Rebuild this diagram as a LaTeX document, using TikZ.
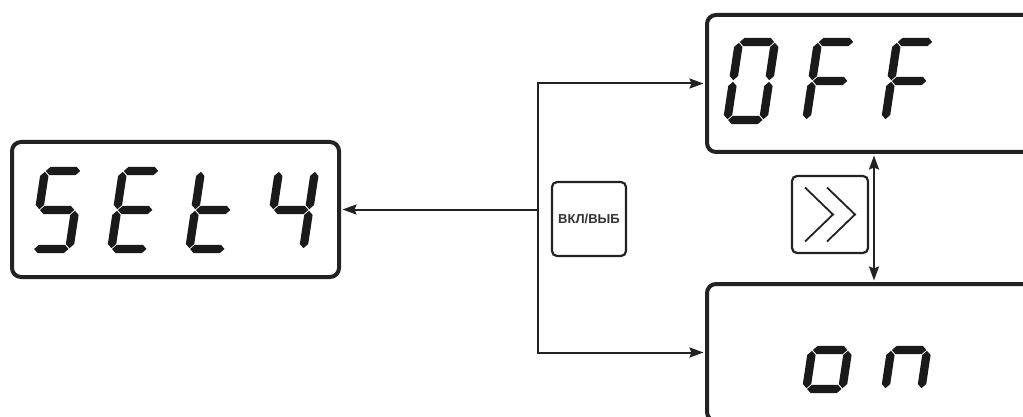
\documentclass[tikz,border=0pt]{standalone}
\usepackage{fontspec}
\newfontfamily\btnfont{Liberation Sans}
\usetikzlibrary{arrows.meta}
\definecolor{segc}{HTML}{1A1A1A}
\definecolor{linec}{HTML}{222222}
\definecolor{txtc}{HTML}{333333}
% seven-segment pieces, local units px, y downward, digit 36 x 78
\newcommand{\segA}{\fill[segc] (0.8,0) -- (5,-4.2) -- (31,-4.2) -- (35.2,0) -- (31,4.2) -- (5,4.2) -- cycle;}
\newcommand{\segG}{\fill[segc] (0.8,39) -- (5,34.8) -- (31,34.8) -- (35.2,39) -- (31,43.2) -- (5,43.2) -- cycle;}
\newcommand{\segD}{\fill[segc] (0.8,78) -- (5,73.8) -- (31,73.8) -- (35.2,78) -- (31,82.2) -- (5,82.2) -- cycle;}
\newcommand{\segF}{\fill[segc] (0,0.8) -- (4.2,5) -- (4.2,34) -- (0,38.2) -- (-4.2,34) -- (-4.2,5) -- cycle;}
\newcommand{\segE}{\fill[segc] (0,39.8) -- (4.2,44) -- (4.2,73) -- (0,77.2) -- (-4.2,73) -- (-4.2,44) -- cycle;}
\newcommand{\segB}{\fill[segc] (36,0.8) -- (40.2,5) -- (40.2,34) -- (36,38.2) -- (31.8,34) -- (31.8,5) -- cycle;}
\newcommand{\segC}{\fill[segc] (36,39.8) -- (40.2,44) -- (40.2,73) -- (36,77.2) -- (31.8,73) -- (31.8,44) -- cycle;}
\newcommand{\SevenSeg}[3]{\begin{scope}[shift={(#1,#2)},xslant=0.15]#3\end{scope}}
\tikzset{
  dispbox/.style={draw=linec, line width=4pt, rounded corners=9pt, inner sep=0pt},
  btn/.style={draw=linec, line width=2.2pt, rounded corners=5pt, inner sep=0pt, text=txtc},
  arr/.style={draw=linec, line width=2pt, -{Stealth[length=14pt,width=10pt,inset=2pt]}, shorten >=1.5pt},
  darr/.style={draw=linec, line width=2pt, {Stealth[length=14pt,width=10pt,inset=2pt]}-{Stealth[length=14pt,width=10pt,inset=2pt]}, shorten >=1.5pt, shorten <=1.5pt},
  chevline/.style={draw=linec, line width=1.8pt}
}
\begin{document}
\begin{tikzpicture}[x=1pt,y=-1pt]
\useasboundingbox (0,0) rectangle (1023,417);
\clip (0,0) rectangle (1023,417);
\fill[white] (0,0) rectangle (1023,417);
% display boxes
\node[dispbox, minimum width=327pt, minimum height=135pt] (set) at (175.5,209.5) {};
\node[dispbox, minimum width=327pt, minimum height=137pt] (off) at (870.5,83.5) {};
\node[dispbox, minimum width=327pt, minimum height=137pt] (on) at (870.5,352.5) {};
% buttons
\node[btn, minimum width=74pt, minimum height=74pt, font=\btnfont\bfseries\fontsize{13}{15}\selectfont] (vkl) at (589,219) {ВКЛ/ВЫБ};
\node[btn, minimum width=76pt, minimum height=77pt] (chev) at (830,214.5) {};
\draw[chevline] ([shift={(-25,-27)}]chev.center) -- ([shift={(3,0)}]chev.center) -- ([shift={(-25,27)}]chev.center);
\draw[chevline] ([shift={(-3,-27)}]chev.center) -- ([shift={(25,0)}]chev.center) -- ([shift={(-3,27)}]chev.center);
% digits SEt4
\SevenSeg{45}{171}{\segA\segF\segG\segC\segD}
\SevenSeg{123}{171}{\segA\segF\segG\segE\segD}
\SevenSeg{201}{171}{\segF\segE\segG\segD}
\SevenSeg{279}{171}{\segF\segG\segB\segC}
% OFF
\SevenSeg{739}{42}{\segA\segB\segC\segD\segE\segF}
\SevenSeg{818}{42}{\segA\segF\segG\segE}
\SevenSeg{897}{42}{\segA\segF\segG\segE}
% on
\SevenSeg{818}{311}{\segG\segC\segD\segE}
\SevenSeg{897}{311}{\segG\segE\segC}
% connectors
\coordinate (j) at (538,209.5);
\draw[arr] (j) -- (set.east);
\draw[arr] (j) |- (off.west);
\draw[arr] (j) |- (on.west);
\draw[darr] ([xshift=3.5pt]off.south) -- ([xshift=3.5pt]on.north);
\end{tikzpicture}
\end{document}
